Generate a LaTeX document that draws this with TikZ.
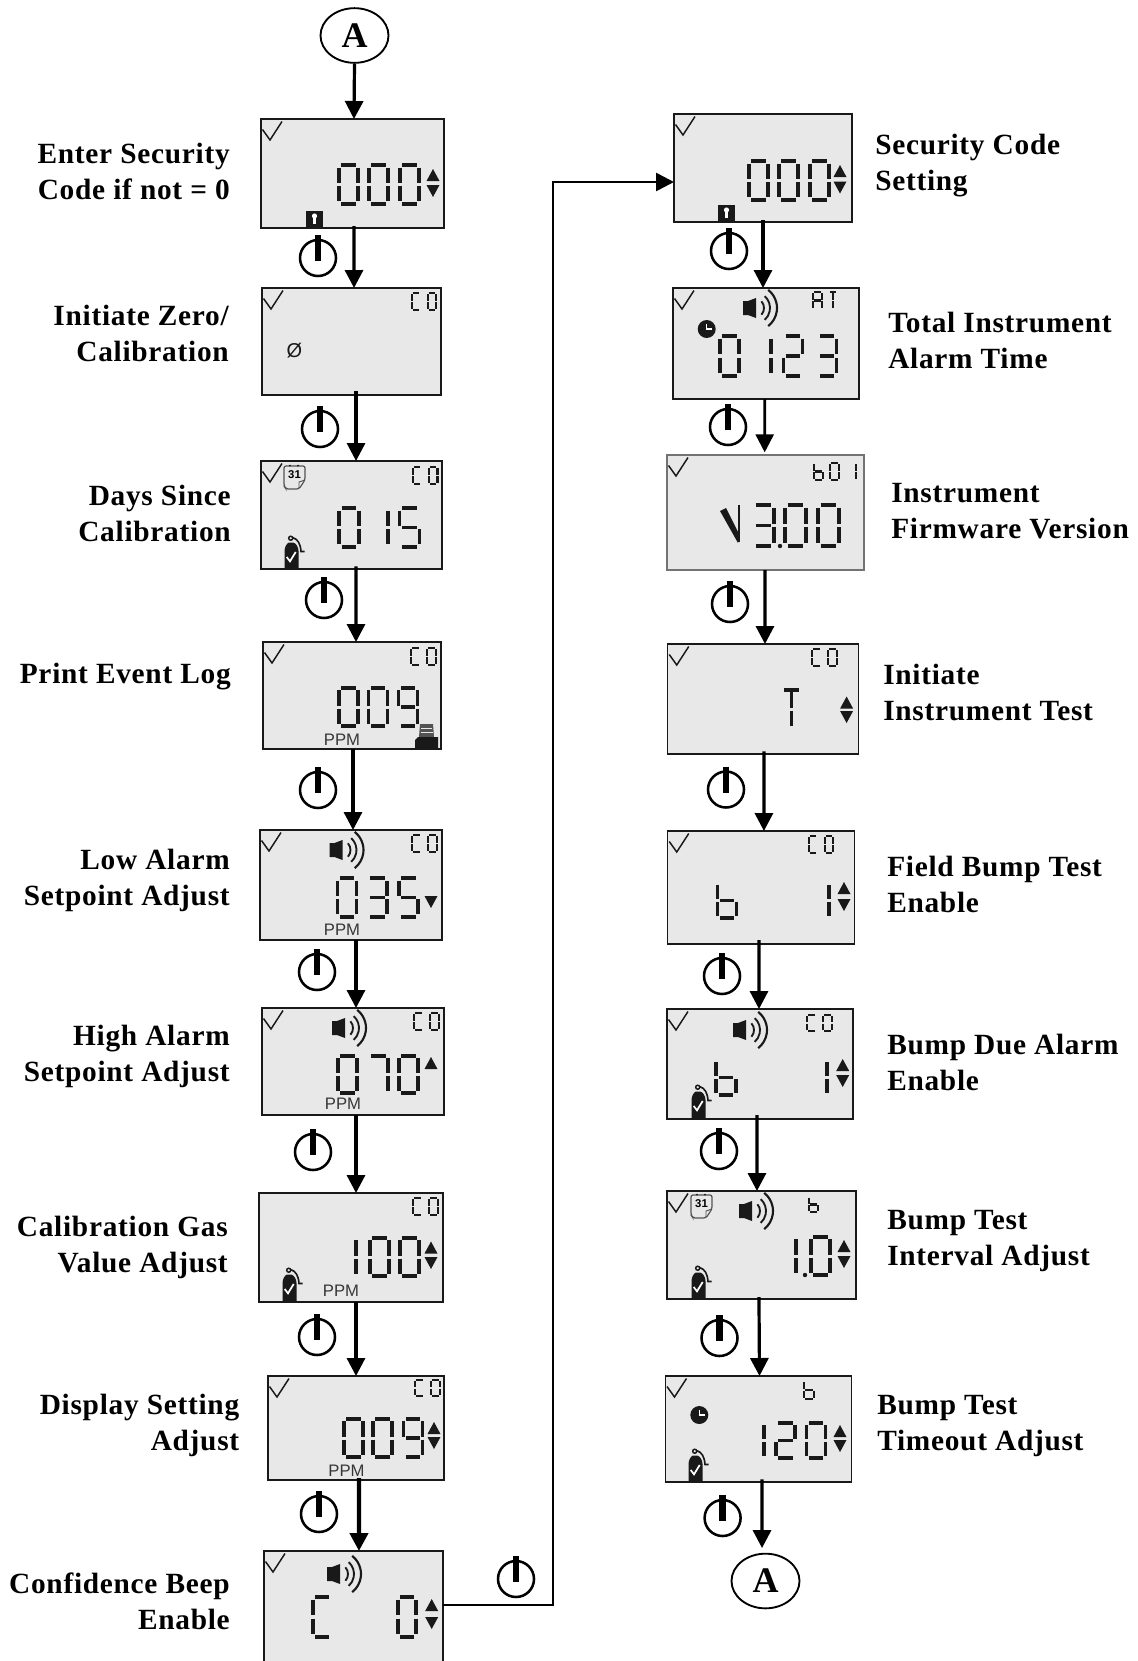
\documentclass[tikz,border=0pt]{standalone}
\usepackage{fontspec}
\setmainfont{Liberation Serif}
\newfontfamily\labelfont[LetterSpace=2.5]{Liberation Serif}
\newfontfamily\lcdfont{Liberation Sans}
\usetikzlibrary{shapes.geometric, arrows.meta, positioning}
\definecolor{lcdgray}{RGB}{232, 232, 232}
\definecolor{lcdink}{RGB}{25, 25, 25}
\definecolor{ppmgray}{RGB}{55, 55, 55}
\tikzset{
  lcdbox/.style={rectangle, draw=lcdink, fill=lcdgray, line width=1pt, inner sep=0pt, outer sep=0pt},
  lcdsize/.style 2 args={minimum width=#1*0.75pt, minimum height=#2*0.75pt},
  steplabel/.style={font=\labelfont\bfseries\fontsize{22}{27}\selectfont, inner sep=0pt},
  leftlabel/.style={steplabel, anchor=east, align=right},
  rightlabel/.style={steplabel, anchor=west, align=left},
  termnode/.style={ellipse, draw=black, fill=white, line width=1.4pt, inner sep=0pt,
              minimum width=51pt, minimum height=41pt, font=\bfseries\fontsize{27}{27}\selectfont},
  ppmtext/.style={font=\lcdfont\fontsize{12.5}{12.5}\selectfont, color=ppmgray, inner sep=0pt},
  flowarrow/.style={-{Triangle[length=13.5pt,width=13.5pt]}, line width=2.4pt, color=black},
  lcdseg/.style={line width=2.6pt, color=lcdink},
  lcdthin/.style={line width=1.6pt, color=lcdink},
  lcdtick/.pic={\draw[line width=1.1pt, color=lcdink] (1.5,10.5) -- (9,21) -- (21,2.5);},
  triup/.pic={\fill[lcdink] (-6.5,6) -- (6.5,6) -- (0,-6) -- cycle;},
  tridown/.pic={\fill[lcdink] (-6.5,-6) -- (6.5,-6) -- (0,6) -- cycle;},
  powerkey/.pic={\draw[line width=1.9pt] (0,0) circle (18); \draw[line width=5pt] (0,-23) -- (0,3);},
  lockicon/.pic={\fill[lcdink] (0,0) rectangle (17,16);
              \fill[white] (8.5,5) circle (2.6); \fill[white] (7.2,5) rectangle (9.8,13);},
  clockicon/.pic={\fill[lcdink] (0,0) circle (9);
              \draw[white, line width=0.8pt] (0,-5.5) -- (0,0) -- (5.5,0);},
  speaker/.pic={\fill[lcdink] (0,11) -- (5,11) -- (13,8) -- (13,28) -- (5,25) -- (0,25) -- cycle;
              \draw[lcdink, line width=1.4pt] ([shift={(11,18)}]-42:10) arc (-42:42:10);
              \draw[lcdink, line width=1.4pt] ([shift={(11,18)}]-48:16) arc (-48:48:16);
              \draw[lcdink, line width=1.6pt] ([shift={(11,18)}]-52:23) arc (-52:52:23);},
  gasbottle/.pic={\fill[lcdink] (-0.5,33) -- (-0.5,15) .. controls (-0.5,11) and (2,7) .. (4,6.5) -- (8,6.5)
              .. controls (11,7) and (13.5,11) .. (13.5,15) -- (13.5,33) -- cycle;
              \draw[lcdink, line width=1.1pt] (5.7,2.2) circle (2);
              \draw[lcdink, line width=1.2pt] (7.5,1.5) .. controls (13,3) and (15.5,8) .. (16,15.5) -- (19.5,15.5);
              \draw[white, line width=1.3pt] (1.7,21) -- (5,25.3) -- (10.7,16);},
  calendar/.pic={\draw[lcdink!75, line width=0.9pt, rounded corners=1.5pt, fill=lcdgray]
              (0,2) -- (21,2) -- (21,16) -- (15,25) -- (2,25) -- (0,22) -- cycle;
              \draw[lcdink!75, line width=0.7pt] (21,16) -- (15,18) -- (15,25);
              \fill[lcdink] (6,1.5) circle (1) (14,1.5) circle (1);
              \node[font=\lcdfont\bfseries\fontsize{8.5}{8.5}\selectfont, inner sep=0pt] (-day) at (10.5,10.5) {31};},
  printer/.pic={\fill[lcdink!75] (5,1) -- (18,1) -- (19,14) -- (4,14) -- cycle;
              \draw[lcdgray, line width=0.5pt] (6,5) -- (17,5) (5.5,9.5) -- (18,9.5);
              \fill[lcdink] (0,25) -- (0,17) -- (3,14) -- (23,14) -- (23,25) -- cycle;},
}
\newcommand{\lcdshape}[2]{\expandafter\def\csname lcdg#1\endcsname{#2}}
\newcommand{\lcdpart}[2]{\expandafter\def\csname lcds#1\endcsname{#2}}
\lcdpart{a}{(.12,0) -- (.88,0)}
\lcdpart{b}{(1,.06) -- (1,.46)}
\lcdpart{c}{(1,.54) -- (1,.94)}
\lcdpart{d}{(.12,1) -- (.88,1)}
\lcdpart{e}{(0,.54) -- (0,.94)}
\lcdpart{f}{(0,.06) -- (0,.46)}
\lcdpart{g}{(.12,.5) -- (.88,.5)}
\lcdpart{h}{(.5,.06) -- (.5,.46)}
\lcdpart{i}{(.5,.54) -- (.5,.94)}
\lcdshape{0}{a,b,c,d,e,f}
\lcdshape{1}{b,c}
\lcdshape{2}{a,b,g,e,d}
\lcdshape{3}{a,b,g,c,d}
\lcdshape{5}{a,f,g,c,d}
\lcdshape{7}{a,b,c}
\lcdshape{9}{a,b,g,c,d,f}
\lcdshape{C}{a,d,e,f}
\lcdshape{b}{f,e,d,c,g}
\lcdshape{A}{a,b,c,e,f,g}
\lcdshape{T}{a,h,i}
\newcommand{\lcdnum}[5][lcdseg]{%
  \pgfmathsetmacro{\cellh}{#3-2.4}
  \pgfmathsetmacro{\cellw}{#4-2.4}
  \foreach \dx/\gly in {#5}{
    \begin{scope}[shift={(\dx+1.2,#2+1.2)}, xscale=\cellw, yscale=\cellh]
      \edef\glylist{\csname lcdg\gly\endcsname}
      \foreach \sg in \glylist {
        \edef\segdraw{\noexpand\draw[#1] \csname lcds\sg\endcsname;}\segdraw
      }
    \end{scope}
  }
}
\newcommand{\lcdco}[2]{\pgfmathsetmacro{\ox}{#1+16}\lcdnum[lcdthin]{#2}{19}{11}{#1/C,\ox/0}}
\newcommand{\updown}[3]{\pic at (#1,#2) {triup}; \pic at (#1,#3) {tridown};}
\begin{document}
\begin{tikzpicture}[x=0.75pt, y=-0.75pt]
  \useasboundingbox (0,0) rectangle (1138,1661);

  \node[lcdbox, lcdsize={183}{109}] (enter) at (352.5,173.5) {};
  \node[lcdbox, lcdsize={179}{107}] (zerocal) at (351.5,341.5) {};
  \node[lcdbox, lcdsize={181}{108}] (days) at (351.5,515) {};
  \node[lcdbox, lcdsize={178}{107}] (evlog) at (352,695.5) {};
  \node[lcdbox, lcdsize={182}{110}] (lowset) at (351,885) {};
  \node[lcdbox, lcdsize={182}{107}] (highset) at (353,1061.5) {};
  \node[lcdbox, lcdsize={184}{109}] (gasval) at (351,1247.5) {};
  \node[lcdbox, lcdsize={176}{104}] (dispset) at (356,1428) {};
  \node[lcdbox, lcdsize={179}{117}] (beep) at (353.5,1609.5) {};
  \node[lcdbox, lcdsize={178}{108}] (seccode) at (763,168) {};
  \node[lcdbox, lcdsize={186}{111}] (almtime) at (766,343.5) {};
  \node[lcdbox, lcdsize={197}{115}, draw=black!55, line width=1.5pt] (fwver) at (765.5,512.5) {};
  \node[lcdbox, lcdsize={191}{110}] (insttest) at (763.25,699) {};
  \node[lcdbox, lcdsize={187}{113}] (bumpen) at (761.25,887.5) {};
  \node[lcdbox, lcdsize={186}{110}] (bumpdue) at (760,1064) {};
  \node[lcdbox, lcdsize={189}{108}] (bumpint) at (761.5,1245) {};
  \node[lcdbox, lcdsize={186}{106}] (bumpto) at (758.5,1429) {};

  \node[termnode] (starta) at (354.5,35.5) {A};
  \node[termnode] (enda) at (765.5,1581) {A};

  \node[leftlabel] (enterlbl) at (230,171.7) {Enter Security\\Code if not = 0};
  \node[leftlabel] (zerolbl) at (229,333.8) {Initiate Zero/\\Calibration};
  \node[leftlabel] (dayslbl) at (231,513.9) {Days Since\\Calibration};
  \node[leftlabel] (loglbl) at (231,677) {Print Event Log};
  \node[leftlabel] (lowlbl) at (230,880.4) {Low Alarm\\Setpoint Adjust};
  \node[leftlabel] (highlbl) at (230,1056) {High Alarm\\Setpoint Adjust};
  \node[leftlabel] (gaslbl) at (228,1247.5) {Calibration Gas\\Value Adjust};
  \node[leftlabel] (displbl) at (239.5,1425.5) {Display Setting\\Adjust};
  \node[leftlabel] (beeplbl) at (230,1601.6) {Confidence Beep\\Enable};
  \node[rightlabel] (seclbl) at (875,166) {Security Code\\Setting};
  \node[rightlabel] (almlbl) at (888,340) {Total Instrument\\Alarm Time};
  \node[rightlabel] (fwlbl) at (891,511) {Instrument\\Firmware Version};
  \node[rightlabel] (testlbl) at (883,692.5) {Initiate\\Instrument Test};
  \node[rightlabel] (fieldlbl) at (887,884) {Field Bump Test\\Enable};
  \node[rightlabel] (duelbl) at (887,1062) {Bump Due Alarm\\Enable};
  \node[rightlabel] (intlbl) at (887,1241) {Bump Test\\Interval Adjust};
  \node[rightlabel] (tolbl) at (877,1426) {Bump Test\\Timeout Adjust};

  \foreach \nm in {enter,zerocal,days,evlog,lowset,highset,dispset,beep,seccode,almtime,fwver,insttest,bumpen,bumpdue,bumpint,bumpto}
    \pic at (\nm.north west) {lcdtick};

  \lcdnum{164}{41}{21}{338/0,368/0,399/0}
  \updown{433}{175}{191}
  \pic at (306,211) {lockicon};
  \lcdco{410.5}{292}
  \node[ppmtext, font=\lcdfont\fontsize{15}{15}\selectfont, color=lcdink] (zerosign) at (294.5,351) {Ø};
  \lcdco{411.7}{466}
  \lcdnum{507}{41}{22}{338/0,367/1,398.5/5}
  \pic (calday) at (284,464) {calendar};
  \pic at (285,536) {gasbottle};
  \lcdco{410}{647}
  \lcdnum{687}{40}{21}{338/0,367.5/0,397.5/9}
  \pic at (415,723) {printer};
  \node[ppmtext] (ppmlog) at (342,740) {PPM};
  \lcdco{411}{834}
  \pic at (329.5,832) {speaker};
  \lcdnum{877}{41}{21}{336.5/0,367/3,398/5}
  \pic at (431,902) {tridown};
  \node[ppmtext] (ppmlow) at (342,930) {PPM};
  \lcdco{413}{1012}
  \pic at (332,1010) {speaker};
  \lcdnum{1055}{39}{21}{337/0,368/7,398/0}
  \pic at (431,1063) {triup};
  \node[ppmtext] (ppmhigh) at (343,1104) {PPM};
  \lcdco{412}{1197}
  \lcdnum{1237}{40}{21}{336/1,369/0,399/0}
  \updown{431}{1247.5}{1263}
  \pic at (283,1268) {gasbottle};
  \node[ppmtext] (ppmgas) at (341,1290.5) {PPM};
  \lcdco{414}{1378.5}
  \lcdnum{1418}{40}{21}{343/0,372/0,402.5/9}
  \updown{434}{1428}{1443}
  \node[ppmtext] (ppmdisp) at (346.5,1470.5) {PPM};
  \pic at (327,1556) {speaker};
  \lcdnum{1596}{42}{20}{312/C,397/0}
  \updown{431.7}{1605}{1623}

  \lcdnum{160}{41}{21}{748/0,778/0,809/0}
  \updown{840}{171}{187.5}
  \pic at (718,205) {lockicon};
  \pic at (743,290) {speaker};
  \lcdnum[lcdthin]{291}{19}{11}{812/A}
  \lcdnum[lcdthin]{291}{19}{10}{828/T}
  \pic at (706.7,329) {clockicon};
  \lcdnum{335}{42}{21}{719/0,751/1,782.5/2,816.5/3}
  \lcdnum[lcdthin]{462}{19}{11}{813/b,829/0,846/1}
  \fill[lcdink] (720,511) -- (726,508) -- (738,532) -- (738,543) -- cycle;
  \draw[lcdink, line width=2.2pt] (739,505) -- (739,542);
  \lcdnum{504}{43}{23}{752/3,784/0,817/0}
  \fill[lcdink] (780,546) circle (2.2);
  \lcdco{811}{648}
  \lcdnum{689}{40}{21}{781/T}
  \updown{846.6}{702.5}{717}
  \lcdco{807.5}{835}
  \lcdnum{882}{37}{21}{716.5/b,809/1}
  \updown{844}{888}{905}
  \lcdco{806}{1013.5}
  \pic at (733,1012) {speaker};
  \lcdnum{1059}{37}{22}{715/b,806/1}
  \updown{842.7}{1065}{1081}
  \pic at (692,1085) {gasbottle};
  \pic (calint) at (691,1193) {calendar};
  \pic at (739,1193) {speaker};
  \lcdnum[lcdthin]{1196}{17}{11}{808/b}
  \lcdnum{1236}{40}{21}{776/1,810/0}
  \fill[lcdink] (805,1275) circle (2.2);
  \updown{844}{1246}{1262}
  \pic at (692,1266) {gasbottle};
  \lcdnum[lcdthin]{1380}{20}{12}{803/b}
  \pic at (699.3,1415) {clockicon};
  \lcdnum{1422}{37}{21}{744/1,775/2,805.5/0}
  \updown{840}{1431}{1446}
  \pic at (689,1449) {gasbottle};

  \foreach \px/\py in {318/258,320/429,324/600,318/790,317/972,313/1152,317/1337,319/1514,516/1579,729/251,728/427,730/604,726/789.5,722/976,719/1151,719.5/1338,722.6/1518}
    \pic at (\px,\py) {powerkey};

  \draw[flowarrow] (starta.south) -- ([xshift=1.1pt]enter.north);
  \draw[flowarrow] ([xshift=1.1pt,yshift=1.5pt]enter.south) -- ([xshift=1.9pt]zerocal.north);
  \draw[flowarrow] ([xshift=3.4pt,yshift=3pt]zerocal.south) -- ([xshift=3.4pt]days.north);
  \draw[flowarrow] ([xshift=3.4pt,yshift=2pt]days.south) -- ([xshift=3pt]evlog.north);
  \draw[flowarrow] ([xshift=0.75pt]evlog.south) -- ([xshift=1.5pt]lowset.north);
  \draw[flowarrow] ([xshift=3.75pt]lowset.south) -- ([xshift=2.25pt]highset.north);
  \draw[flowarrow] ([xshift=2.25pt]highset.south) -- ([xshift=3.75pt]gasval.north);
  \draw[flowarrow] ([xshift=3.75pt]gasval.south) -- (dispset.north);
  \draw[flowarrow, line width=3.2pt] ([xshift=2.25pt,yshift=1.5pt]dispset.south) -- ([xshift=4.1pt]beep.north);
  \draw[flowarrow, line width=2pt] ([yshift=3.4pt]beep.east) -- ++(110,0) |- ([yshift=-10.5pt]seccode.west);
  \draw[flowarrow] ([yshift=1.5pt]seccode.south) -- ([xshift=-2.25pt]almtime.north);
  \draw[flowarrow, line width=2pt] ([xshift=-1pt]almtime.south) -- ([xshift=-0.6pt,yshift=2pt]fwver.north);
  \draw[flowarrow] ([xshift=-0.4pt]fwver.south) -- ([xshift=1.3pt]insttest.north);
  \draw[flowarrow] ([xshift=0.6pt,yshift=2pt]insttest.south) -- ([xshift=2pt]bumpen.north);
  \draw[flowarrow] ([xshift=-1.7pt,yshift=3pt]bumpen.south) -- ([xshift=-0.75pt]bumpdue.north);
  \draw[flowarrow] ([xshift=-2.25pt,yshift=3pt]bumpdue.south) -- ([xshift=-3.4pt]bumpint.north);
  \draw[flowarrow] ([xshift=-1.9pt,yshift=1.5pt]bumpint.south) -- ([xshift=0.75pt]bumpto.north);
  \draw[flowarrow] ([xshift=2.6pt,yshift=2pt]bumpto.south) -- ([xshift=-2.6pt,yshift=3.5pt]enda.north);
\end{tikzpicture}
\end{document}
